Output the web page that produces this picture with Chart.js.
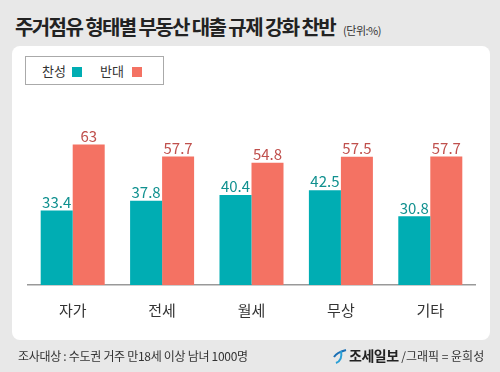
<!DOCTYPE html>
<html>
<head>
<meta charset="utf-8">
<script src="https://cdn.jsdelivr.net/npm/chart.js@4"></script>
<style>
  html, body { margin: 0; padding: 0; }
  body {
    width: 500px; height: 372px; background: #e8e8e8; position: relative; overflow: hidden;
    font-family: "Noto Sans CJK KR", "Noto Sans", sans-serif; color: #222;
  }
  #title { position: absolute; left: 15px; top: 12px; font-size: 20px; font-weight: bold; letter-spacing: -1.6px; white-space: nowrap; }
  #title small { font-size: 11px; font-weight: normal; letter-spacing: -0.5px; margin-left: 8px; color: #333; }
  #panel { position: absolute; left: 12px; top: 46px; width: 478px; height: 294px; background: #fff; border-radius: 8px; }
  #legend { position: absolute; left: 25px; top: 56px; width: 137px; height: 27px; border: 1px solid #aaa; font-size: 13px; color: #333; }
  #legend span { position: absolute; top: 4px; }
  #legend i { position: absolute; top: 10px; width: 10px; height: 10px; }
  canvas { position: absolute; left: 0; top: 0; }
  #foot { position: absolute; left: 18px; top: 347px; font-size: 12px; color: #333; letter-spacing: -0.3px; white-space: nowrap; }
  #credit { position: absolute; left: 333px; top: 345px; font-size: 12px; color: #333; white-space: nowrap; }
  #credit b { font-size: 14px; color: #222; margin-left: 2px; letter-spacing: -0.5px; }
</style>
</head>
<body>
<div id="title">주거점유 형태별 부동산 대출 규제 강화 찬반<small>(단위:%)</small></div>
<div id="panel"></div>
<div id="legend">
  <span style="left:16px">찬성</span><i style="left:46px;background:#00adb3"></i>
  <span style="left:74px">반대</span><i style="left:106px;background:#f47263"></i>
</div>
<canvas id="c" width="500" height="372"></canvas>
<div id="foot">조사대상 : 수도권 거주 만18세 이상 남녀 1000명</div>
<div id="credit"><svg width="14" height="16" viewBox="0 0 14 16" style="vertical-align:-3px"><path d="M1 9 C4 4 9 3 13 2" stroke="#1a6fb5" stroke-width="2" fill="none"/><path d="M8 3 C9 8 8 13 3 15" stroke="#2a9fd6" stroke-width="2" fill="none"/></svg><b>조세일보</b> /그래픽 = 윤희성</div>
<script>
const categories = ['자가', '전세', '월세', '무상', '기타'];
const favor = [33.4, 37.8, 40.4, 42.5, 30.8];
const oppose = [63, 57.7, 54.8, 57.5, 57.7];
const seriesNames = ['찬성', '반대'];

const labelPlugin = {
  id: 'barLabels',
  afterDatasetsDraw(chart) {
    const ctx = chart.ctx;
    ctx.save();
    ctx.font = '15px "Noto Sans CJK KR", sans-serif';
    ctx.textAlign = 'center';
    ctx.textBaseline = 'bottom';
    chart.data.datasets.forEach((ds, i) => {
      ctx.fillStyle = ds.labelColor;
      chart.getDatasetMeta(i).data.forEach((bar, j) => {
        ctx.fillText(String(ds.data[j]), bar.x, bar.y - 1);
      });
    });
    ctx.restore();
  }
};

new Chart(document.getElementById('c'), {
  type: 'bar',
  data: {
    labels: categories,
    datasets: [
      { label: seriesNames[0], data: favor, backgroundColor: '#00adb3', labelColor: '#10908f' },
      { label: seriesNames[1], data: oppose, backgroundColor: '#f47263', labelColor: '#c0504d' }
    ]
  },
  options: {
    responsive: false,
    animation: false,
    layout: { padding: { left: 28, right: 25, top: 129, bottom: 45 } },
    datasets: { bar: { barPercentage: 1, categoryPercentage: 0.716 } },
    scales: {
      x: {
        grid: { display: false },
        border: { color: '#999', width: 1.5 },
        ticks: { color: '#333', font: { size: 15, family: '"Noto Sans CJK KR", sans-serif' }, padding: 8 }
      },
      y: { display: false, min: 0, max: 70 }
    },
    plugins: { legend: { display: false }, tooltip: { enabled: false } }
  },
  plugins: [labelPlugin]
});
</script>
</body>
</html>
